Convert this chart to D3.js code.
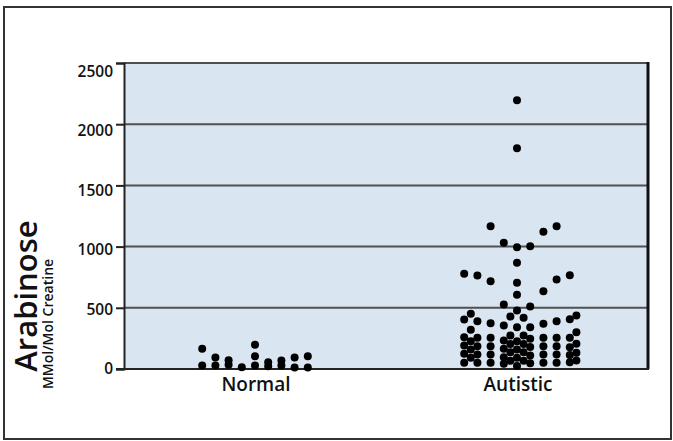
<!DOCTYPE html>
<html>
<head>
<meta charset="utf-8">
<script src="https://cdn.jsdelivr.net/npm/d3@7"></script>
<style>
  body { margin: 0; background: #fff; }
  text { font-family: "Open Sans", sans-serif; }
</style>
</head>
<body>
<div id="chart"></div>
<script>
"use strict";

/* DATA */

let categories = ["Normal", "Autistic"];
let yTicks = [0, 500, 1000, 1500, 2000, 2500];

// normal group values and their swarm column (half-step slots)
let normalValues = [165, 29, 94, 29, 72, 34, 15, 198, 105, 29, 56, 23, 69, 29, 94, 12, 105, 12];
let normalSlots  = [-8, -8, -6, -6, -4, -4, -2, 0, 0, 0, 2, 2, 4, 4, 6, 6, 8, 8];

// autistic group values and their swarm column
let autisticValues = [
  778, 404, 260, 192, 124, 51,
  451, 320, 227, 159, 91,
  764, 390, 255, 186, 118, 51,
  1167, 717, 374, 255, 186, 118, 51,
  1031, 527, 355, 233, 165, 97, 42,
  429, 273, 205, 137, 68,
  2196, 1804, 995, 868, 704, 606, 478, 342, 227, 159, 91, 25,
  418, 273, 205, 137, 68,
  1003, 511, 342, 247, 179, 111, 47,
  1121, 636, 369, 255, 186, 118, 51,
  1167, 731, 390, 255, 186, 118, 51,
  766, 407, 255, 178, 115, 56,
  437, 301, 206, 132, 69
];
let autisticSlots = [
  -8, -8, -8, -8, -8, -8,
  -7, -7, -7, -7, -7,
  -6, -6, -6, -6, -6, -6,
  -4, -4, -4, -4, -4, -4, -4,
  -2, -2, -2, -2, -2, -2, -2,
  -1, -1, -1, -1, -1,
  0, 0, 0, 0, 0, 0, 0, 0, 0, 0, 0, 0,
  1, 1, 1, 1, 1,
  2, 2, 2, 2, 2, 2, 2,
  4, 4, 4, 4, 4, 4, 4,
  6, 6, 6, 6, 6, 6, 6,
  8, 8, 8, 8, 8, 8,
  9, 9, 9, 9, 9
];


/* SVG SETUP */

let svgWidth = 673;
let svgHeight = 441;

let plotLeft = 124;
let plotRight = 648;
let plotTop = 63;
let plotBottom = 369;

let svg = d3.select("#chart")
    .append("svg")
    .attr("width", svgWidth)
    .attr("height", svgHeight);

// outer frame
svg.append("rect")
    .attr("x", 4)
    .attr("y", 7)
    .attr("width", 667)
    .attr("height", 432)
    .attr("fill", "none")
    .attr("stroke", "#333")
    .attr("stroke-width", 2);


/* SCALES */

let xScale = d3.scalePoint()
    .domain(categories)
    .range([plotLeft, plotRight])
    .padding(0.5);

let yScale = d3.scaleLinear()
    .domain([0, 2500])
    .range([plotBottom, plotTop]);

// tick labels in the original sit a little lower than their gridlines
let yLabelScale = d3.scaleLinear()
    .domain([0, 2500])
    .range([plotBottom, 71.5]);

// swarm column -> horizontal offset in px
let slotScale = d3.scaleLinear()
    .domain([0, 1])
    .range([0, 6.6]);


/* PLOT AREA */

svg.append("rect")
    .attr("x", plotLeft)
    .attr("y", plotTop)
    .attr("width", plotRight - plotLeft)
    .attr("height", plotBottom - plotTop)
    .attr("fill", "#dae5f2");

// gridlines
svg.append("g")
    .selectAll("line")
    .data(yTicks.filter(d => d > 0))
    .join("line")
    .attr("x1", plotLeft)
    .attr("x2", plotRight)
    .attr("y1", d => yScale(d))
    .attr("y2", d => yScale(d))
    .attr("stroke", "#505050")
    .attr("stroke-width", 2);

// right border
svg.append("line")
    .attr("x1", plotRight)
    .attr("x2", plotRight)
    .attr("y1", plotTop - 1)
    .attr("y2", plotBottom)
    .attr("stroke", "#111")
    .attr("stroke-width", 3);

// y axis with tick marks only
let yAxis = svg.append("g")
    .attr("transform", "translate(" + plotLeft + ",0)")
    .call(d3.axisLeft(yScale).tickValues(yTicks).tickSize(8).tickFormat(""));

yAxis.select(".domain")
    .attr("stroke", "#222")
    .attr("stroke-width", 2);

yAxis.selectAll(".tick line")
    .attr("stroke", "#222")
    .attr("stroke-width", 2);

// tick labels
svg.append("g")
    .selectAll("text")
    .data(yTicks)
    .join("text")
    .attr("x", plotLeft - 11)
    .attr("y", d => yLabelScale(d))
    .attr("dy", "0.35em")
    .attr("text-anchor", "end")
    .attr("font-size", "15.5px")
    .attr("font-weight", 600)
    .attr("fill", "#111")
    .text(d => d);

// bottom axis line
svg.append("line")
    .attr("x1", plotLeft - 8)
    .attr("x2", plotRight + 1)
    .attr("y1", plotBottom)
    .attr("y2", plotBottom)
    .attr("stroke", "#222")
    .attr("stroke-width", 2);


/* DOTS */

function drawGroup(category, values, slots) {
    svg.append("g")
        .selectAll("circle")
        .data(values)
        .join("circle")
        .attr("cx", (d, i) => xScale(category) + slotScale(slots[i]))
        .attr("cy", d => yScale(d))
        .attr("r", 4)
        .attr("fill", "#000");
}

drawGroup("Normal", normalValues, normalSlots);
drawGroup("Autistic", autisticValues, autisticSlots);


/* LABELS */

// category labels
svg.append("g")
    .selectAll("text")
    .data(categories)
    .join("text")
    .attr("x", d => xScale(d) + 1)
    .attr("y", 391)
    .attr("text-anchor", "middle")
    .attr("font-size", "19px")
    .attr("font-weight", 600)
    .attr("fill", "#111")
    .text(d => d);

// y title
svg.append("text")
    .attr("transform", "translate(37,296) rotate(-90)")
    .attr("text-anchor", "middle")
    .attr("font-size", "31px")
    .attr("font-weight", 600)
    .attr("fill", "#111")
    .text("Arabinose");

svg.append("text")
    .attr("transform", "translate(53,324) rotate(-90)")
    .attr("text-anchor", "middle")
    .attr("font-size", "14px")
    .attr("font-weight", 600)
    .attr("fill", "#111")
    .text("MMol/Mol Creatine");
</script>
</body>
</html>
